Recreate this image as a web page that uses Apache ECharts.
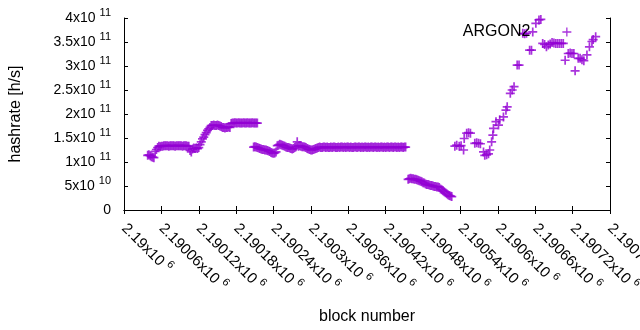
<!DOCTYPE html>
<html>
<head>
<meta charset="utf-8">
<script src="https://cdn.jsdelivr.net/npm/echarts@6/dist/echarts.min.js"></script>
<style>
  html, body { margin: 0; padding: 0; background: #fff; }
  #chart { width: 640px; height: 330px; }
</style>
</head>
<body>
<div id="chart"></div>
<script>
// block numbers are baseBlock + offset, hashrate is in units of 1e9 h/s
const baseBlock = 2190000;
const runStep = 2;

// dense runs: one value every runStep blocks, starting at the given offset
const runAStart = 38;
const runA = [114, 115, 113, 111, 110, 109, 122, 126, 130, 133,
  132, 133, 133, 134, 134, 134, 134, 133, 134, 134, 134, 134, 133, 134, 134, 134, 134, 134, 133, 134, 134, 134, 133, 133,
  124, 121, 127, 129, 128, 129, 128, 130,
  136, 142, 148, 152, 157, 161, 166, 169, 172, 176,
  176, 177, 176, 176, 177, 176, 175, 174,
  172, 172, 171, 172, 172, 173, 172,
  180, 181, 181, 182, 181, 181, 182, 181, 181, 181, 182, 181, 181, 182, 181, 181, 181, 182, 181, 181, 181,
  181];

const runBStart = 208;
const runB = [131, 132, 131, 130, 129, 128, 127, 126, 126, 125,
  125, 124, 123, 122, 120, 119, 118, 119, 121, 134,
  135, 137, 136, 135, 134, 133, 131, 130, 130, 129,
  128, 127, 128, 130, 132, 142, 133, 134, 133, 132,
  132, 131, 130, 128, 127, 126, 125, 125, 126, 127,
  128, 129];

const runCStart = 312;
const runC = [130, 131, 130, 130, 131, 131, 130, 131, 130, 130,
  131, 130, 131, 131, 130, 130, 131, 130, 131, 131,
  130, 131, 130, 131, 131, 130, 131, 130, 130, 131,
  131, 130, 131, 131, 130, 131, 130, 131, 131, 130,
  131, 130, 131, 131, 130, 131, 131, 130, 131, 130,
  131, 131, 130, 131, 130, 131, 131, 130, 131, 131,
  130, 131, 131, 130, 131, 130, 131, 131, 130, 131,
  131];

const runDStart = 456;
const runD = [64, 65, 66, 65, 65, 64, 64, 63, 62, 61, 60, 59, 57, 56, 54, 53, 53, 52,
  51, 51, 50, 49, 49, 48, 48, 47, 44, 42, 40, 38, 36, 34, 32, 30, 29, 28];

// sparse part after the gap
const sparseOffsets = [531, 534, 538, 541, 545, 546, 550, 553, 556, 563,
  566, 569, 572, 577, 579, 582, 585, 587, 590, 592,
  593, 597, 601, 603, 609, 613, 615, 620, 623, 626,
  631, 634, 640, 643, 646, 651, 654, 656, 661, 666,
  669, 672, 675, 678, 681, 684, 687, 690, 693, 696,
  699, 702, 705, 708, 713, 716, 719, 722, 724, 729,
  732, 735, 738, 743, 747, 751, 753, 757];
const sparseValues = [133, 135, 133, 134, 125, 149, 160, 161, 160, 139,
  140, 139, 138, 121, 114, 115, 117, 125, 142, 156,
  170, 184, 177, 188, 194, 208, 215, 243, 250, 257,
  302, 302, 368, 367, 368, 333, 333, 371, 389, 396,
  397, 347, 345, 340, 344, 346, 349, 348, 347, 347,
  347, 347, 347, 312, 326, 327, 326, 326, 290, 316,
  316, 313, 311, 323, 340, 351, 355, 361];

const yTickLabels = ['0', '5|10', '1|11', '1.5|11', '2|11', '2.5|11', '3|11', '3.5|11', '4|11'];

const points = [];
[[runAStart, runA], [runBStart, runB], [runCStart, runC], [runDStart, runD]].forEach(([start, vals]) => {
  vals.forEach((v, i) => points.push([baseBlock + start + i * runStep, v]));
});
sparseOffsets.forEach((o, i) => points.push([baseBlock + o, sparseValues[i]]));

const violet = '#9400d3';
const plus = 'path://M0,4H8M4,0V8';
const font = '"Liberation Sans", Arial, sans-serif';
function richFor(size) {
  return {
    m: { fontSize: size, fontFamily: font, color: '#000', lineHeight: 22 },
    s: { fontSize: 11, fontFamily: font, color: '#000', lineHeight: 11, verticalAlign: 'top', padding: [0, 0, 0, 4] }
  };
}

const chart = echarts.init(document.getElementById('chart'));
chart.setOption({
  animation: false,
  grid: { left: 124, right: 30, top: 18, bottom: 120, outerBoundsMode: 'none' },
  legend: {
    top: 24,
    right: 68,
    padding: 0,
    align: 'right',
    itemWidth: 9,
    itemHeight: 9,
    selectedMode: false,
    itemStyle: { color: violet, borderColor: violet, borderWidth: 1.3 },
    textStyle: { fontSize: 16, fontFamily: font, color: '#000', padding: [0, 27, 0, 0] },
    data: [{ name: 'ARGON2', icon: plus }]
  },
  xAxis: [{
    type: 'value',
    min: 2190000,
    max: 2190780,
    interval: 60,
    name: 'block number',
    nameLocation: 'middle',
    nameGap: 99,
    nameTextStyle: { fontSize: 16, fontFamily: font, color: '#000' },
    axisLine: { lineStyle: { color: '#000', width: 1 } },
    axisTick: { inside: true, length: 4, lineStyle: { color: '#000' } },
    splitLine: { show: false },
    axisLabel: {
      rotate: -45,
      margin: 16,
      showMaxLabel: true,
      hideOverlap: false,
      formatter: v => '{m|' + parseFloat((v / 1e6).toFixed(5)) + 'x10}{s|6}',
      rich: richFor(15)
    }
  }, {
    type: 'value',
    position: 'top',
    min: 2190000,
    max: 2190780,
    interval: 60,
    axisLine: { lineStyle: { color: '#000', width: 1 } },
    axisTick: { inside: true, length: 4, lineStyle: { color: '#000' } },
    axisLabel: { show: false },
    splitLine: { show: false }
  }],
  yAxis: [{
    type: 'value',
    min: 0,
    max: 400,
    interval: 50,
    name: 'hashrate [h/s]',
    nameLocation: 'middle',
    nameGap: 100,
    nameRotate: 90,
    nameTextStyle: { fontSize: 16, fontFamily: font, color: '#000' },
    axisLine: { show: true, lineStyle: { color: '#000', width: 1 } },
    axisTick: { show: true, inside: true, length: 4, lineStyle: { color: '#000' } },
    splitLine: { show: false },
    axisLabel: {
      margin: 13,
      formatter: v => {
        const parts = yTickLabels[Math.round(v / 50)].split('|');
        return parts.length === 1 ? '{m|' + parts[0] + '}' : '{m|' + parts[0] + 'x10}{s|' + parts[1] + '}';
      },
      rich: richFor(14)
    }
  }, {
    type: 'value',
    position: 'right',
    min: 0,
    max: 400,
    interval: 50,
    axisLine: { show: true, lineStyle: { color: '#000', width: 1 } },
    axisTick: { show: true, inside: true, length: 4, lineStyle: { color: '#000' } },
    axisLabel: { show: false },
    splitLine: { show: false }
  }],
  series: [{
    name: 'ARGON2',
    type: 'scatter',
    silent: true,
    symbol: plus,
    symbolSize: 9,
    itemStyle: { color: violet, borderColor: violet, borderWidth: 1.7 },
    data: points
  }]
});
</script>
</body>
</html>
